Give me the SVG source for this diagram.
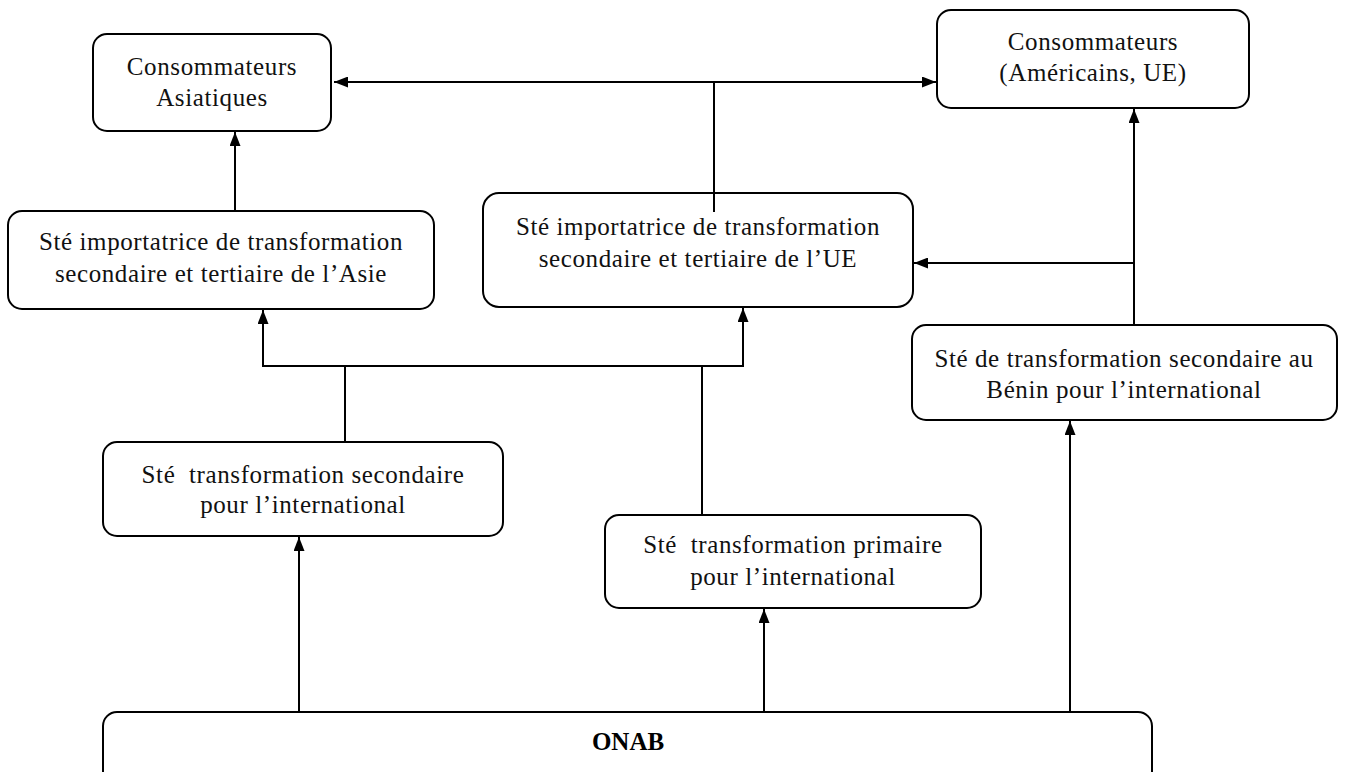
<svg xmlns="http://www.w3.org/2000/svg" width="1348" height="772" viewBox="0 0 1348 772">
<style>
.box{fill:#fff;stroke:#000;stroke-width:2}
.t{font-family:"Liberation Serif","Times New Roman",serif;font-size:25px;letter-spacing:0.6px;fill:#111;text-anchor:middle}
.b{font-family:"Liberation Serif","Times New Roman",serif;font-size:25px;font-weight:bold;fill:#000;text-anchor:middle}
.c{fill:none;stroke:#000;stroke-width:2}
</style>
<defs>
<marker id="ah" viewBox="0 0 14 11" refX="14" refY="5.5" markerWidth="14" markerHeight="11" markerUnits="userSpaceOnUse" orient="auto-start-reverse">
<path d="M0,0 L14,5.5 L0,11 Z" fill="#000"/>
</marker>
</defs>
<rect width="1348" height="772" fill="#fff"/>
<g id="connectors">
<line class="c" x1="334" y1="82" x2="936" y2="82" marker-start="url(#ah)" marker-end="url(#ah)"/>
<line class="c" x1="714" y1="82" x2="714" y2="193"/>
<line class="c" x1="235" y1="211" x2="235" y2="132" marker-end="url(#ah)"/>
<polyline class="c" points="345,442 345,366"/>
<polyline class="c" points="702,515 702,366"/>
<polyline class="c" points="263,310 263,366 743,366 743,308" marker-start="url(#ah)" marker-end="url(#ah)"/>
<line class="c" x1="1134" y1="325" x2="1134" y2="109" marker-end="url(#ah)"/>
<line class="c" x1="1134" y1="263" x2="914" y2="263" marker-end="url(#ah)"/>
<line class="c" x1="299" y1="712" x2="299" y2="537" marker-end="url(#ah)"/>
<line class="c" x1="764" y1="712" x2="764" y2="609" marker-end="url(#ah)"/>
<line class="c" x1="1070" y1="712" x2="1070" y2="421" marker-end="url(#ah)"/>
</g>
<g id="n-asie-conso">
<rect class="box" x="93" y="34" width="238" height="97" rx="14"/>
<text class="t" x="212" y="75">Consommateurs</text>
<text class="t" x="212" y="106">Asiatiques</text>
</g>
<g id="n-ue-conso">
<rect class="box" x="937" y="10" width="312" height="98" rx="14"/>
<text class="t" x="1093" y="50">Consommateurs</text>
<text class="t" x="1093" y="81">(Américains, UE)</text>
</g>
<g id="n-asie-import">
<rect class="box" x="8" y="211" width="426" height="98" rx="14"/>
<text class="t" x="221" y="250">Sté importatrice de transformation</text>
<text class="t" x="221" y="282">secondaire et tertiaire de l’Asie</text>
</g>
<g id="n-ue-import">
<rect class="box" x="483" y="193" width="430" height="114" rx="16"/>
<text class="t" x="698" y="235">Sté importatrice de transformation</text>
<text class="t" x="698" y="267">secondaire et tertiaire de l’UE</text>
<line class="c" x1="714" y1="192" x2="714" y2="212"/>
</g>
<g id="n-benin">
<rect class="box" x="912" y="325" width="425" height="95" rx="14"/>
<text class="t" x="1124" y="367">Sté de transformation secondaire au</text>
<text class="t" x="1124" y="398">Bénin pour l’international</text>
</g>
<g id="n-secondaire">
<rect class="box" x="103" y="442" width="400" height="94" rx="14"/>
<text class="t" x="303" y="483" xml:space="preserve">Sté  transformation secondaire</text>
<text class="t" x="303" y="513">pour l’international</text>
</g>
<g id="n-primaire">
<rect class="box" x="605" y="515" width="376" height="93" rx="14"/>
<text class="t" x="793" y="553" xml:space="preserve">Sté  transformation primaire</text>
<text class="t" x="793" y="585">pour l’international</text>
</g>
<g id="n-onab">
<rect class="box" x="103" y="712" width="1049" height="80" rx="14"/>
<text class="b" x="628" y="750">ONAB</text>
</g>
</svg>
